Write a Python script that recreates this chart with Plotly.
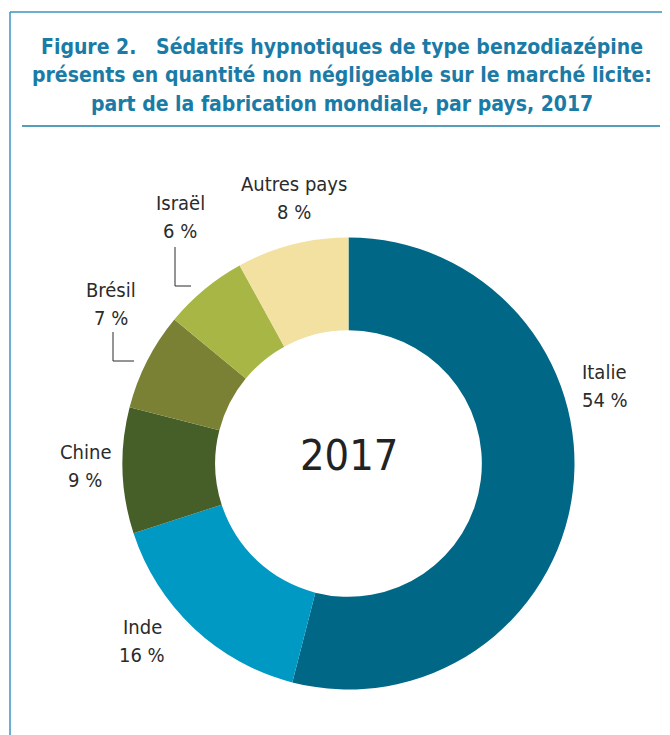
import plotly.graph_objects as go

# page body has an 8px margin; figure sized to fill the visible window
OFF = 8
W, H = 670 - OFF, 735 - OFF

countries = ["Italie", "Inde", "Chine", "Brésil", "Israël", "Autres pays"]
shares = [54, 16, 9, 7, 6, 8]
colors = ["#006886", "#0099C3", "#465F29", "#7A8134", "#A8B646", "#F2E1A1"]
title_lines = [
    "Figure 2.   Sédatifs hypnotiques de type benzodiazépine",
    "présents en quantité non négligeable sur le marché licite:",
    "part de la fabrication mondiale, par pays, 2017",
]
center_label = "2017"

def px(x):
    return (x - OFF) / W

def py(y):
    return 1 - (y - OFF) / H

cx, cy, r = 348.5, 463.5, 226

fig = go.Figure(go.Pie(
    labels=countries,
    values=shares,
    marker=dict(colors=colors, line=dict(width=0)),
    hole=0.59,
    sort=False,
    direction="clockwise",
    rotation=0,
    textinfo="none",
    hoverinfo="label+percent",
    domain=dict(x=[px(cx - r), px(cx + r)], y=[py(cy + r), py(cy - r)]),
    showlegend=False,
))

FONT = "DejaVu Sans Condensed, Liberation Sans Narrow, Arial Narrow, sans-serif"
label_font = dict(family=FONT, size=20, color="#2b2b2b")
# label positions (pixels): (x, y of first line, xanchor)
label_pos = {
    "Italie": (580, 372, "left"),
    "Inde": (142, 627, "center"),
    "Chine": (85, 452, "center"),
    "Brésil": (111, 290, "center"),
    "Israël": (180, 203, "center"),
    "Autres pays": (294, 184, "center"),
}
annotations = []
for name, val in zip(countries, shares):
    x, y, anc = label_pos[name]
    annotations.append(dict(x=px(x), y=py(y), xref="paper", yref="paper",
                            text=name, showarrow=False, xanchor=anc, yanchor="middle",
                            font=label_font))
    annotations.append(dict(x=px(x), y=py(y + 28), xref="paper", yref="paper",
                            text=f"{val} %", showarrow=False, xanchor=anc, yanchor="middle",
                            font=label_font))

title_font = dict(family=FONT, size=21, color="#1A7BA6")
for i, t in enumerate(title_lines):
    annotations.append(dict(x=px(342), y=py(47 + i * 28.5), xref="paper", yref="paper",
                            text=f"<b>{t}</b>", showarrow=False, xanchor="center",
                            yanchor="middle", font=title_font))

annotations.append(dict(x=px(cx), y=py(455), xref="paper", yref="paper", text=center_label,
                        showarrow=False, xanchor="center", yanchor="middle",
                        font=dict(family=FONT, size=43, color="#222222")))

frame_col = "#3E95BE"
shapes = [
    dict(type="line", xref="paper", yref="paper", x0=px(10), x1=px(680), y0=py(12), y1=py(12),
         line=dict(color=frame_col, width=1.5)),
    dict(type="line", xref="paper", yref="paper", x0=px(10), x1=px(10), y0=py(12), y1=py(745),
         line=dict(color=frame_col, width=1.5)),
    dict(type="line", xref="paper", yref="paper", x0=px(22), x1=px(660), y0=py(126), y1=py(126),
         line=dict(color="#1B7EA6", width=1.5)),
    # leader lines
    dict(type="path", xref="paper", yref="paper",
         path=f"M {px(113)},{py(332)} L {px(113)},{py(361)} L {px(134)},{py(361)}",
         line=dict(color="#2b2b2b", width=1)),
    dict(type="path", xref="paper", yref="paper",
         path=f"M {px(175)},{py(247)} L {px(175)},{py(286)} L {px(191)},{py(286)}",
         line=dict(color="#2b2b2b", width=1)),
]

fig.update_layout(
    width=W, height=H,
    margin=dict(l=0, r=0, t=0, b=0),
    paper_bgcolor="white",
    plot_bgcolor="white",
    annotations=annotations,
    shapes=shapes,
)

fig.write_html("out.html")
